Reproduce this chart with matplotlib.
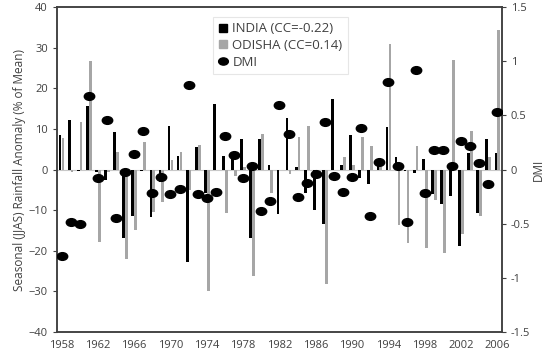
import numpy as np
import matplotlib.pyplot as plt
from matplotlib.lines import Line2D
from matplotlib.path import Path
from matplotlib.transforms import Affine2D

plt.rcParams['font.family'] = ['Open Sans', 'DejaVu Sans']

# data
years = list(range(1958, 2007))
india = [8.4, 12.1, -0.4, 15.7, -0.5, -2.5, 9.3, -16.8, -11.5, -0.3,
         -11.7, -3.1, 10.8, 3.4, -22.8, 5.6, -5.9, 16.1, 3.4, 3.3,
         7.5, -16.8, 7.4, 1.2, -11.0, 12.7, 0.7, -5.9, -10.0, -13.3,
         17.4, 1.1, 8.6, -2.0, -3.5, 1.0, 10.5, 3.1, -0.4, -0.8,
         2.6, -6.0, -8.4, -6.6, -18.9, 4.1, -10.7, 7.4, 4.1]
odisha = [7.8, -0.5, 11.7, 26.8, -17.8, -0.5, 4.2, -22.0, -15.0, 6.7,
          -10.4, -8.0, 2.4, 4.3, -5.1, 6.1, -29.8, 0.0, -10.8, -1.5,
          0.5, -26.2, 8.8, -5.9, 0.0, -1.0, 8.0, 10.7, -0.5, -28.1,
          0.0, 3.0, 1.0, 7.9, 5.7, 1.0, 31.0, -13.7, -18.2, 5.7,
          -19.3, -7.4, -20.5, 27.0, -15.8, 9.5, -11.5, 3.1, 34.3]
dmi = [-0.80, -0.48, -0.50, 0.68, -0.08, 0.46, -0.45, -0.02, 0.14, 0.36,
       -0.22, -0.07, -0.23, -0.18, 0.78, -0.23, -0.26, -0.21, 0.31, 0.13,
       -0.08, 0.03, -0.38, -0.29, 0.60, 0.33, -0.25, -0.12, -0.04, 0.44,
       -0.06, -0.21, -0.07, 0.38, -0.43, 0.07, 0.81, 0.03, -0.48, 0.92,
       -0.22, 0.18, 0.18, 0.03, 0.26, 0.22, 0.06, -0.13, 0.53]

x = np.arange(len(years))

fig = plt.figure(figsize=(5.5, 3.58), dpi=100)
ax = fig.add_axes([0.1036, 0.0726, 0.809, 0.9078])
ax2 = ax.twinx()

ax.axhline(0, color='#c8c8c8', lw=0.8, zorder=1)
ax.bar(x - 0.16, india, width=0.3, color='black', zorder=2)
ax.bar(x + 0.16, odisha, width=0.3, color='#a6a6a6', zorder=2)

# ellipse marker for DMI
ell = Path.unit_circle().transformed(Affine2D().scale(1.35, 1.0))
ax2.plot(x, dmi, ls='none', marker=ell, ms=7.5, color='black', zorder=3)

ax.set_xlim(-0.5, len(years) - 0.5)
ax.set_ylim(-40, 40)
ax2.set_ylim(-1.5, 1.5)
ax.set_yticks(range(-40, 41, 10))
ax2.set_yticks([-1.5, -1, -0.5, 0, 0.5, 1, 1.5])
ax2.set_yticklabels(['-1.5', '-1', '-0.5', '0', '0.5', '1', '1.5'])
ax.set_xticks(x[::4])
ax.set_xticklabels([str(y) for y in years[::4]])

for a in (ax, ax2):
    a.tick_params(labelsize=8, colors='#404040', length=3, width=0.8)
    for s in a.spines.values():
        s.set_color('#404040')
        s.set_linewidth(1.1)
ax.tick_params(axis='x', length=0, pad=6)

ax.set_ylabel('Seasonal (JJAS) Rainfall Anomaly (% of Mean)', fontsize=8.5,
              color='#404040', labelpad=2)
ax2.set_ylabel('DMI', fontsize=8.5, color='#404040', rotation=90, labelpad=1)

handles = [
    Line2D([], [], ls='none', marker='s', ms=6, color='black'),
    Line2D([], [], ls='none', marker='s', ms=6, color='#a6a6a6'),
    Line2D([], [], ls='none', marker=ell, ms=7, color='black'),
]
labels = ['INDIA (CC=-0.22)', 'ODISHA (CC=0.14)', 'DMI']
leg = ax2.legend(handles, labels, loc='upper left', bbox_to_anchor=(0.335, 0.99),
                 fontsize=9.5, frameon=True, fancybox=False, handlelength=0.8,
                 handletextpad=0.3, borderpad=0.4, labelspacing=0.3)
leg.get_frame().set_edgecolor('#e0e0e0')
leg.get_frame().set_linewidth(0.8)
for t in leg.get_texts():
    t.set_color('#404040')

fig.savefig('out.png', dpi=100)
